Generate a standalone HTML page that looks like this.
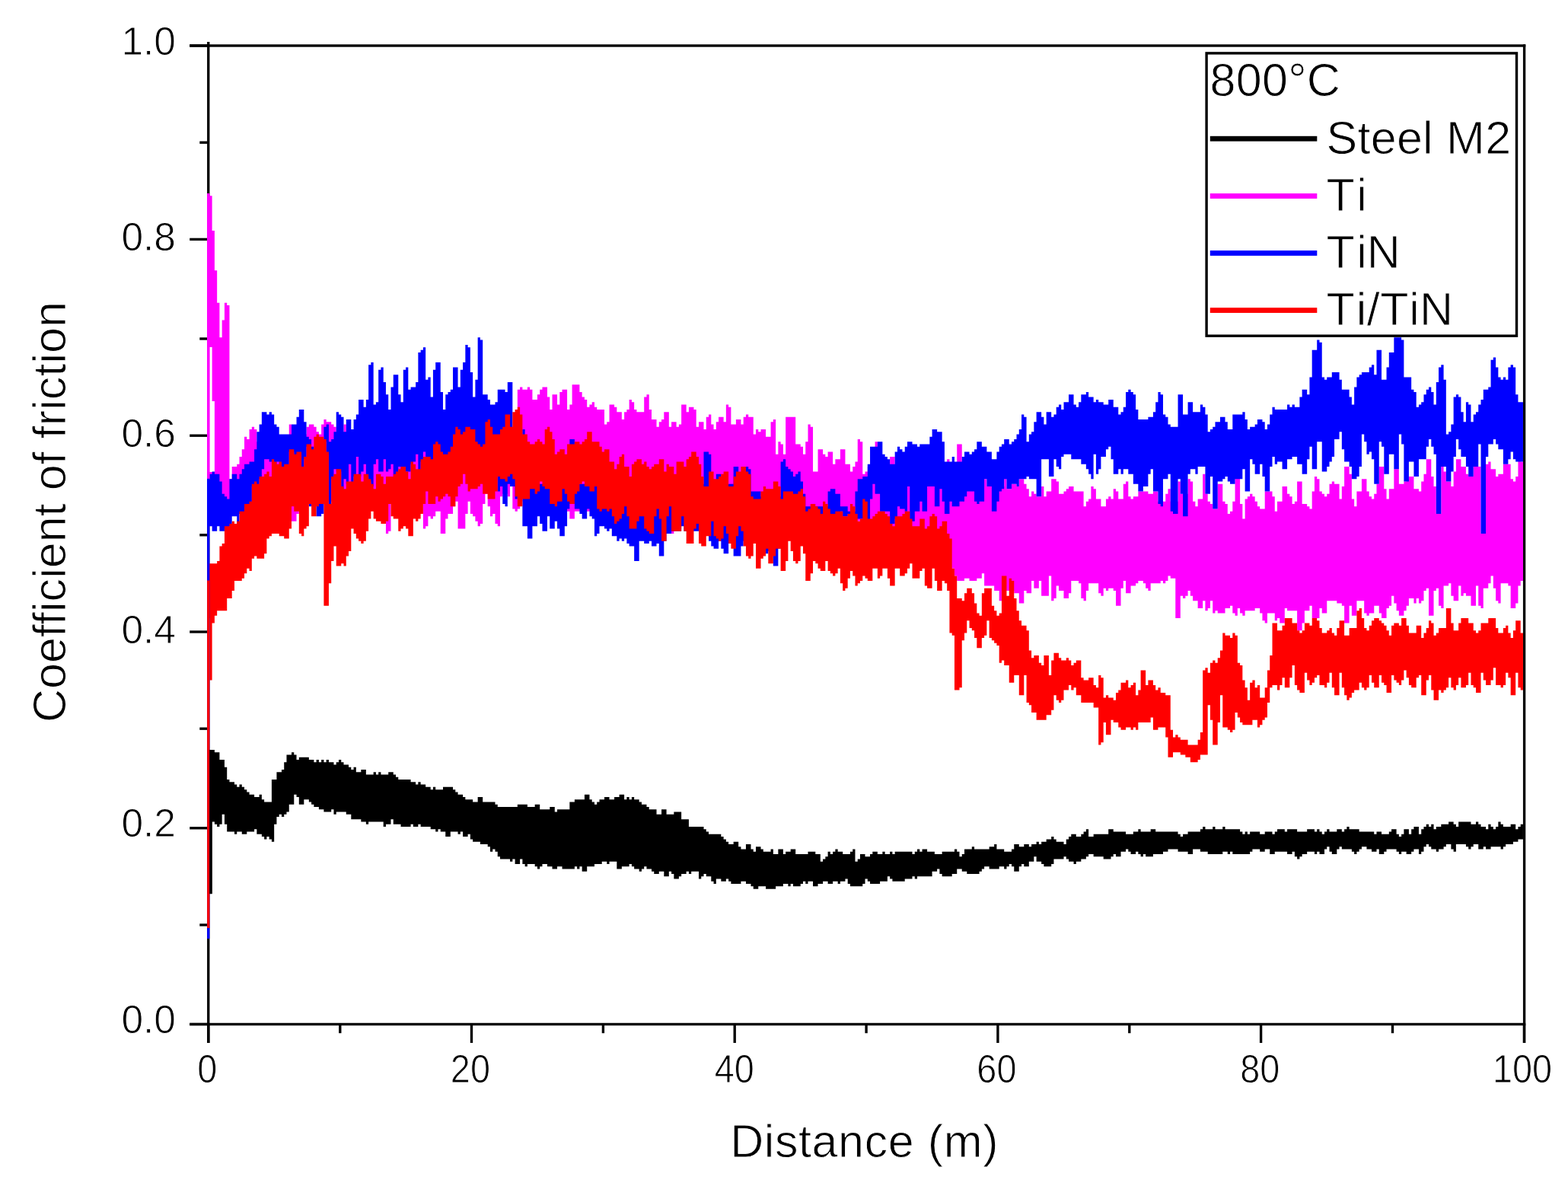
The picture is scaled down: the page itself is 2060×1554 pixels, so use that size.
<!DOCTYPE html>
<html lang="en"><head><meta charset="utf-8"><title>Coefficient of friction vs distance at 800°C</title>
<style>
html,body{margin:0;padding:0;background:#fff;}
body{width:2060px;height:1554px;overflow:hidden;}
svg{display:block;}
text{font-family:"Liberation Sans",Arial,Helvetica,sans-serif;fill:#000;stroke:#fff;stroke-width:0.9px;paint-order:fill stroke;}
.tick{font-size:51.5px;}
.ttl{font-size:61px;}
.leg{font-size:61px;}
</style></head><body>
<svg width="2060" height="1554" viewBox="0 0 2060 1554">
<rect x="0" y="0" width="2060" height="1554" fill="#fff"/>
<g id="axes" fill="#000">
<rect x="272.07" y="55.00" width="3.35" height="1315.00"/>
<rect x="2000.92" y="58.33" width="3.35" height="1311.67"/>
<rect x="249.20" y="58.33" width="1755.07" height="3.35"/>
<rect x="249.20" y="1343.78" width="1755.07" height="3.35"/>
<rect x="249.20" y="1343.83" width="24.55" height="3.35"/>
<rect x="262.30" y="1213.33" width="11.45" height="3.35"/>
<rect x="249.20" y="1086.12" width="24.55" height="3.35"/>
<rect x="262.30" y="955.53" width="11.45" height="3.35"/>
<rect x="249.20" y="828.33" width="24.55" height="3.35"/>
<rect x="262.30" y="701.12" width="11.45" height="3.35"/>
<rect x="249.20" y="570.53" width="24.55" height="3.35"/>
<rect x="262.30" y="443.32" width="11.45" height="3.35"/>
<rect x="249.20" y="312.72" width="24.55" height="3.35"/>
<rect x="262.30" y="185.52" width="11.45" height="3.35"/>
<rect x="249.20" y="58.33" width="24.55" height="3.35"/>
<rect x="272.12" y="1345.45" width="3.35" height="24.55"/>
<rect x="445.12" y="1345.45" width="3.35" height="11.75"/>
<rect x="617.83" y="1345.45" width="3.35" height="24.55"/>
<rect x="790.73" y="1345.45" width="3.35" height="11.75"/>
<rect x="963.53" y="1345.45" width="3.35" height="24.55"/>
<rect x="1136.42" y="1345.45" width="3.35" height="11.75"/>
<rect x="1309.23" y="1345.45" width="3.35" height="24.55"/>
<rect x="1482.12" y="1345.45" width="3.35" height="11.75"/>
<rect x="1654.92" y="1345.45" width="3.35" height="24.55"/>
<rect x="1827.83" y="1345.45" width="3.35" height="11.75"/>
<rect x="2000.78" y="1345.45" width="3.35" height="24.55"/>
</g>
<g id="series">
<path id="steel-m2" fill="#000000" d="M272.10 984.92H275.36H278.62H281.89V988.19H285.15H288.41V997.97H291.67H294.93V1007.76H298.20V1024.08H301.46V1027.34H304.72H307.98V1030.60H311.24V1033.86H314.51V1030.60H317.77V1033.86H321.03V1037.13H324.29V1040.39H327.55V1043.65H330.82H334.08V1046.91H337.34H340.60V1043.65H343.86V1050.18H347.13V1053.44H350.39H353.65H356.91V1024.08H360.17H363.44V1014.29H366.70H369.96V1011.02H373.22V1001.24H376.48V991.45H379.75H383.01V988.19H386.27V991.45H389.53V997.97H392.79V994.71H396.06H399.32H402.58H405.84V997.97H409.10H412.37V1001.24H415.63V997.97H418.89V1001.24H422.15V997.97H425.41V1001.24H428.68V997.97H431.94V1001.24H435.20H438.46V1004.50H441.72V1001.24H444.99V997.97H448.25V1001.24H451.51V1004.50H454.77H458.03V1007.76H461.30V1011.02H464.56V1007.76H467.82V1014.29H471.08H474.34V1011.02H477.61H480.87V1017.55H484.13H487.39H490.65V1014.29H493.92V1017.55H497.18V1014.29H500.44V1017.55H503.70H506.96H510.23V1014.29H513.49H516.75V1017.55H520.01V1020.81H523.27V1024.08H526.54H529.80H533.06H536.32H539.58V1027.34H542.85H546.11V1030.60H549.37V1027.34H552.63V1030.60H555.89H559.16V1033.86H562.42H565.68V1037.13H568.94V1033.86H572.20V1037.13H575.47H578.73H581.99V1033.86H585.25H588.51H591.78H595.04V1037.13H598.30V1040.39H601.56V1043.65H604.82H608.09V1046.91H611.35V1050.18H614.61H617.87H621.13V1053.44H624.40H627.66V1046.91H630.92H634.18V1053.44H637.44H640.71H643.97H647.23H650.49V1056.70H653.75V1059.97H657.02H660.28H663.54H666.80H670.06H673.33H676.59H679.85V1056.70H683.11H686.37H689.64H692.90V1059.97H696.16H699.42H702.68V1056.70H705.95H709.21V1063.23H712.47H715.73H718.99H722.26V1059.97H725.52H728.78V1066.49H732.04V1063.23H735.30H738.57H741.83H745.09H748.35V1053.44H751.61H754.88V1050.18H758.14H761.40H764.66H767.92V1043.65H771.19H774.45V1050.18H777.71V1053.44H780.97V1056.70H784.23V1053.44H787.50V1050.18H790.76H794.02V1046.91H797.28H800.54V1050.18H803.81H807.07V1046.91H810.33H813.59V1043.65H816.85H820.12V1050.18H823.38V1046.91H826.64V1050.18H829.90V1046.91H833.16V1050.18H836.43H839.69V1053.44H842.95V1056.70H846.21H849.47V1059.97H852.74V1063.23H856.00H859.26H862.52V1069.75H865.78H869.05V1063.23H872.31H875.57V1069.75H878.83H882.09H885.36V1066.49H888.62H891.88H895.14V1076.28H898.40H901.67H904.93V1086.07H908.19H911.45H914.71H917.98H921.24H924.50V1089.33H927.76V1092.59H931.02V1095.85H934.29H937.55H940.81H944.07H947.33V1099.12H950.60V1102.38H953.86V1105.64H957.12V1108.91H960.38H963.64V1105.64H966.91H970.17V1112.17H973.43V1115.43H976.69H979.95V1108.91H983.22H986.48V1115.43H989.74V1118.69H993.00V1112.17H996.26H999.53V1115.43H1002.79V1118.69H1006.05H1009.31H1012.57V1115.43H1015.84V1121.96H1019.10H1022.36V1115.43H1025.62H1028.88V1121.96H1032.15V1118.69H1035.41H1038.67V1115.43H1041.93H1045.19V1121.96H1048.46H1051.72H1054.98H1058.24H1061.50V1118.69H1064.77H1068.03H1071.29V1121.96H1074.55H1077.81V1131.74H1081.08V1128.48H1084.34V1125.22H1087.60V1118.69H1090.86V1121.96H1094.12V1118.69H1097.39V1115.43H1100.65V1118.69H1103.91H1107.17V1121.96H1110.43H1113.70H1116.96V1118.69H1120.22V1115.43H1123.48V1131.74H1126.74V1128.48H1130.01V1121.96H1133.27H1136.53V1125.22H1139.79H1143.05V1121.96H1146.32V1118.69H1149.58H1152.84V1121.96H1156.10H1159.36V1118.69H1162.63V1121.96H1165.89H1169.15V1118.69H1172.41V1121.96H1175.67V1118.69H1178.94H1182.20H1185.46H1188.72H1191.98H1195.25H1198.51V1121.96H1201.77V1118.69H1205.03V1115.43H1208.29V1118.69H1211.56V1115.43H1214.82H1218.08V1118.69H1221.34H1224.60H1227.87V1121.96H1231.13H1234.39H1237.65V1118.69H1240.91H1244.18H1247.44H1250.70H1253.96V1115.43H1257.22V1118.69H1260.49V1125.22H1263.75V1121.96H1267.01V1115.43H1270.27H1273.53H1276.80V1112.17H1280.06V1115.43H1283.32H1286.58H1289.84H1293.11H1296.37H1299.63V1112.17H1302.89H1306.15V1108.91H1309.42V1115.43H1312.68H1315.94H1319.20V1118.69H1322.46H1325.73H1328.99V1115.43H1332.25V1108.91H1335.51H1338.77V1112.17H1342.04H1345.30V1108.91H1348.56H1351.82V1112.17H1355.08V1108.91H1358.35H1361.61V1105.64H1364.87V1108.91H1368.13V1105.64H1371.39H1374.66V1102.38H1377.92H1381.18V1099.12H1384.44V1102.38H1387.70V1105.64H1390.97H1394.23H1397.49V1108.91H1400.75V1102.38H1404.01V1099.12H1407.28V1095.85H1410.54H1413.80V1099.12H1417.06H1420.32V1095.85H1423.59V1092.59H1426.85V1089.33H1430.11V1099.12H1433.37H1436.63V1095.85H1439.90H1443.16H1446.42H1449.68H1452.94H1456.21V1089.33H1459.47H1462.73V1092.59H1465.99H1469.25H1472.52H1475.78H1479.04V1095.85H1482.30H1485.56H1488.83V1092.59H1492.09H1495.35V1089.33H1498.61V1092.59H1501.87H1505.14H1508.40H1511.66V1089.33H1514.92H1518.18V1092.59H1521.45H1524.71H1527.97H1531.23H1534.49H1537.76H1541.02H1544.28H1547.54V1095.85H1550.80V1099.12H1554.07V1095.85H1557.33H1560.59V1092.59H1563.85H1567.11H1570.38H1573.64H1576.90V1089.33H1580.16V1086.07H1583.42V1089.33H1586.69H1589.95H1593.21V1086.07H1596.47V1089.33H1599.73H1603.00H1606.26V1086.07H1609.52V1089.33H1612.78H1616.04H1619.31H1622.57H1625.83H1629.09V1092.59H1632.35V1095.85H1635.62V1092.59H1638.88V1095.85H1642.14V1092.59H1645.40H1648.66H1651.93H1655.19V1095.85H1658.45H1661.71V1092.59H1664.97H1668.24H1671.50V1095.85H1674.76V1092.59H1678.02V1089.33H1681.28H1684.55H1687.81V1092.59H1691.07V1089.33H1694.33H1697.59H1700.86H1704.12V1092.59H1707.38H1710.64H1713.90H1717.17V1089.33H1720.43H1723.69H1726.95V1092.59H1730.21V1089.33H1733.48V1092.59H1736.74V1095.85H1740.00V1092.59H1743.26V1089.33H1746.52V1092.59H1749.79H1753.05H1756.31V1089.33H1759.57H1762.83V1092.59H1766.10V1089.33H1769.36V1086.07H1772.62V1089.33H1775.88H1779.14H1782.41H1785.67V1092.59H1788.93H1792.19H1795.45H1798.72H1801.98H1805.24V1095.85H1808.50V1092.59H1811.76H1815.03V1095.85H1818.29H1821.55H1824.81V1092.59H1828.07V1089.33H1831.34H1834.60V1095.85H1837.86V1099.12H1841.12V1095.85H1844.38V1089.33H1847.65H1850.91V1095.85H1854.17V1089.33H1857.43V1086.07H1860.69H1863.96V1095.85H1867.22V1089.33H1870.48V1086.07H1873.74V1082.80H1877.00V1086.07H1880.27V1082.80H1883.53V1089.33H1886.79V1086.07H1890.05H1893.31V1082.80H1896.58H1899.84H1903.10V1079.54H1906.36H1909.62V1082.80H1912.89V1086.07H1916.15V1079.54H1919.41H1922.67H1925.93H1929.20H1932.46V1082.80H1935.72H1938.98V1079.54H1942.24V1082.80H1945.51V1086.07H1948.77H1952.03V1089.33H1955.29V1082.80H1958.55V1086.07H1961.82V1089.33H1965.08V1086.07H1968.34V1079.54H1971.60V1082.80H1974.86V1086.07H1978.13H1981.39H1984.65V1082.80H1987.91H1991.17V1089.33H1994.44V1086.07H1997.70V1082.80H2000.96V1102.38H1997.70H1994.44V1105.64H1991.17H1987.91V1108.91H1984.65H1981.39H1978.13V1112.17H1974.86V1115.43H1971.60V1112.17H1968.34H1965.08H1961.82H1958.55V1115.43H1955.29H1952.03V1112.17H1948.77V1115.43H1945.51H1942.24V1108.91H1938.98H1935.72V1112.17H1932.46V1115.43H1929.20V1112.17H1925.93V1108.91H1922.67H1919.41H1916.15H1912.89V1118.69H1909.62V1115.43H1906.36V1108.91H1903.10H1899.84V1112.17H1896.58V1115.43H1893.31H1890.05V1118.69H1886.79V1115.43H1883.53H1880.27V1112.17H1877.00V1108.91H1873.74V1112.17H1870.48V1118.69H1867.22V1121.96H1863.96V1115.43H1860.69H1857.43V1118.69H1854.17V1121.96H1850.91H1847.65V1118.69H1844.38H1841.12V1121.96H1837.86V1118.69H1834.60V1115.43H1831.34H1828.07H1824.81H1821.55V1118.69H1818.29V1121.96H1815.03H1811.76V1115.43H1808.50V1118.69H1805.24H1801.98V1115.43H1798.72H1795.45V1112.17H1792.19H1788.93V1115.43H1785.67V1118.69H1782.41V1121.96H1779.14V1118.69H1775.88V1115.43H1772.62H1769.36H1766.10H1762.83V1112.17H1759.57V1115.43H1756.31V1121.96H1753.05H1749.79V1118.69H1746.52V1112.17H1743.26V1115.43H1740.00V1121.96H1736.74H1733.48V1118.69H1730.21V1121.96H1726.95V1118.69H1723.69H1720.43H1717.17V1121.96H1713.90H1710.64V1125.22H1707.38V1128.48H1704.12V1125.22H1700.86V1118.69H1697.59V1121.96H1694.33H1691.07V1118.69H1687.81H1684.55H1681.28H1678.02H1674.76V1121.96H1671.50H1668.24V1115.43H1664.97H1661.71V1118.69H1658.45H1655.19V1115.43H1651.93H1648.66H1645.40V1118.69H1642.14V1121.96H1638.88H1635.62H1632.35H1629.09H1625.83H1622.57H1619.31V1118.69H1616.04V1121.96H1612.78V1118.69H1609.52H1606.26V1121.96H1603.00H1599.73H1596.47H1593.21H1589.95H1586.69V1118.69H1583.42H1580.16H1576.90V1115.43H1573.64H1570.38H1567.11V1121.96H1563.85H1560.59V1118.69H1557.33H1554.07H1550.80H1547.54V1115.43H1544.28H1541.02H1537.76H1534.49V1118.69H1531.23H1527.97V1121.96H1524.71H1521.45H1518.18H1514.92V1125.22H1511.66H1508.40H1505.14V1121.96H1501.87V1125.22H1498.61V1121.96H1495.35V1118.69H1492.09V1121.96H1488.83H1485.56V1118.69H1482.30V1115.43H1479.04V1118.69H1475.78H1472.52V1125.22H1469.25H1465.99V1121.96H1462.73V1125.22H1459.47V1128.48H1456.21H1452.94H1449.68V1125.22H1446.42H1443.16H1439.90H1436.63V1121.96H1433.37H1430.11V1125.22H1426.85V1128.48H1423.59H1420.32V1131.74H1417.06H1413.80V1135.01H1410.54V1131.74H1407.28H1404.01V1128.48H1400.75V1125.22H1397.49V1128.48H1394.23H1390.97H1387.70H1384.44V1135.01H1381.18V1138.27H1377.92H1374.66H1371.39V1135.01H1368.13V1131.74H1364.87H1361.61V1125.22H1358.35V1131.74H1355.08H1351.82V1138.27H1348.56H1345.30V1135.01H1342.04V1138.27H1338.77V1144.80H1335.51H1332.25V1138.27H1328.99V1135.01H1325.73V1138.27H1322.46V1141.53H1319.20V1138.27H1315.94H1312.68V1141.53H1309.42H1306.15H1302.89H1299.63V1138.27H1296.37H1293.11V1141.53H1289.84V1144.80H1286.58V1148.06H1283.32H1280.06H1276.80H1273.53H1270.27V1144.80H1267.01H1263.75V1141.53H1260.49H1257.22V1148.06H1253.96H1250.70V1151.32H1247.44H1244.18H1240.91H1237.65V1148.06H1234.39V1141.53H1231.13V1144.80H1227.87H1224.60V1151.32H1221.34H1218.08H1214.82H1211.56H1208.29H1205.03V1154.58H1201.77V1151.32H1198.51V1154.58H1195.25H1191.98H1188.72V1157.85H1185.46H1182.20H1178.94H1175.67H1172.41V1154.58H1169.15V1151.32H1165.89V1157.85H1162.63H1159.36H1156.10V1161.11H1152.84H1149.58H1146.32H1143.05V1157.85H1139.79V1154.58H1136.53V1161.11H1133.27V1164.37H1130.01H1126.74H1123.48H1120.22H1116.96V1161.11H1113.70V1154.58H1110.43V1157.85H1107.17H1103.91V1161.11H1100.65V1157.85H1097.39H1094.12V1161.11H1090.86H1087.60V1157.85H1084.34H1081.08V1161.11H1077.81H1074.55V1164.37H1071.29H1068.03V1157.85H1064.77H1061.50V1161.11H1058.24V1157.85H1054.98V1161.11H1051.72V1164.37H1048.46H1045.19H1041.93V1161.11H1038.67V1164.37H1035.41V1161.11H1032.15H1028.88V1164.37H1025.62H1022.36H1019.10V1167.63H1015.84H1012.57H1009.31H1006.05V1164.37H1002.79H999.53H996.26V1167.63H993.00H989.74V1164.37H986.48V1161.11H983.22H979.95V1157.85H976.69H973.43V1161.11H970.17H966.91H963.64H960.38V1157.85H957.12V1154.58H953.86V1157.85H950.60H947.33V1154.58H944.07H940.81V1161.11H937.55V1157.85H934.29V1151.32H931.02H927.76V1148.06H924.50V1151.32H921.24V1154.58H917.98V1144.80H914.71H911.45H908.19V1148.06H904.93V1144.80H901.67V1148.06H898.40H895.14V1151.32H891.88V1154.58H888.62H885.36V1148.06H882.09V1144.80H878.83V1151.32H875.57H872.31V1144.80H869.05H865.78V1148.06H862.52H859.26V1144.80H856.00V1141.53H852.74H849.47V1138.27H846.21V1141.53H842.95V1144.80H839.69V1141.53H836.43H833.16V1138.27H829.90V1135.01H826.64V1138.27H823.38H820.12H816.85V1141.53H813.59H810.33V1131.74H807.07H803.81H800.54V1135.01H797.28V1131.74H794.02H790.76V1135.01H787.50H784.23H780.97V1138.27H777.71H774.45H771.19V1144.80H767.92H764.66V1138.27H761.40V1141.53H758.14V1138.27H754.88V1141.53H751.61H748.35H745.09H741.83H738.57V1138.27H735.30H732.04V1141.53H728.78H725.52V1138.27H722.26H718.99V1135.01H715.73H712.47V1138.27H709.21V1141.53H705.95V1138.27H702.68V1135.01H699.42H696.16H692.90V1138.27H689.64V1135.01H686.37V1128.48H683.11V1135.01H679.85H676.59V1128.48H673.33V1131.74H670.06V1128.48H666.80H663.54H660.28H657.02V1125.22H653.75V1118.69H650.49V1115.43H647.23V1118.69H643.97V1112.17H640.71V1108.91H637.44H634.18H630.92V1105.64H627.66H624.40H621.13V1102.38H617.87V1095.85H614.61V1099.12H611.35H608.09V1092.59H604.82V1095.85H601.56V1092.59H598.30H595.04H591.78V1099.12H588.51H585.25V1092.59H581.99H578.73V1089.33H575.47V1092.59H572.20V1089.33H568.94H565.68V1086.07H562.42H559.16H555.89H552.63V1082.80H549.37V1086.07H546.11H542.85V1082.80H539.58V1086.07H536.32H533.06H529.80H526.54V1082.80H523.27H520.01H516.75V1076.28H513.49V1082.80H510.23H506.96V1086.07H503.70V1079.54H500.44H497.18H493.92H490.65H487.39H484.13V1082.80H480.87V1079.54H477.61H474.34V1076.28H471.08H467.82H464.56H461.30V1069.75H458.03H454.77V1066.49H451.51H448.25H444.99H441.72V1069.75H438.46V1063.23H435.20V1066.49H431.94H428.68H425.41V1063.23H422.15H418.89V1059.97H415.63H412.37V1056.70H409.10V1053.44H405.84V1050.18H402.58H399.32V1056.70H396.06H392.79V1046.91H389.53V1043.65H386.27V1056.70H383.01H379.75V1066.49H376.48V1069.75H373.22V1073.02H369.96V1069.75H366.70V1073.02H363.44V1082.80H360.17V1105.64H356.91V1102.38H353.65V1099.12H350.39V1102.38H347.13V1099.12H343.86V1095.85H340.60H337.34V1089.33H334.08V1092.59H330.82H327.55H324.29V1095.85H321.03H317.77V1092.59H314.51H311.24V1095.85H307.98V1092.59H304.72H301.46H298.20V1082.80H294.93V1069.75H291.67V1082.80H288.41V1086.07H285.15V1082.80H281.89V1079.54H278.62V1174.16H275.36H272.10Z"/>
<path id="ti" fill="#ff00ff" d="M272.10 254.08H275.36V257.34H278.62V303.02H281.89V355.22H285.15V397.64H288.41V443.31H291.67V420.48H294.93V397.64H298.20V400.90H301.46V629.29H304.72V612.98H307.98H311.24V609.71H314.51V599.92H317.77V590.14H321.03V573.82H324.29V577.09H327.55V564.03H330.82V560.77H334.08V564.03H337.34V580.35H340.60H343.86H347.13H350.39H353.65H356.91H360.17H363.44H366.70H369.96H373.22H376.48H379.75V557.51H383.01V570.56H386.27H389.53H392.79H396.06H399.32H402.58V560.77H405.84V557.51H409.10H412.37V560.77H415.63V567.30H418.89V570.56H422.15V557.51H425.41V550.98H428.68V554.25H431.94H435.20V557.51H438.46V560.77H441.72V570.56H444.99H448.25H451.51V557.51H454.77V567.30H458.03H461.30H464.56H467.82H471.08H474.34H477.61H480.87H484.13H487.39H490.65H493.92H497.18H500.44H503.70H506.96H510.23H513.49H516.75H520.01H523.27H526.54H529.80H533.06H536.32H539.58H542.85H546.11H549.37H552.63H555.89H559.16H562.42H565.68V596.66H568.94V603.19H572.20V577.09H575.47V603.19H578.73V567.30H581.99H585.25H588.51H591.78H595.04H598.30H601.56H604.82H608.09H611.35H614.61H617.87H621.13H624.40H627.66H630.92H634.18H637.44H640.71H643.97H647.23H650.49H653.75H657.02H660.28H663.54H666.80H670.06H673.33H676.59H679.85V511.83H683.11V508.57H686.37V511.83H689.64H692.90V508.57H696.16V511.83H699.42V524.88H702.68H705.95V518.36H709.21V511.83H712.47V508.57H715.73H718.99V521.62H722.26V537.93H725.52V518.36H728.78H732.04V531.41H735.30V515.09H738.57V511.83H741.83H745.09V537.93H748.35V531.41H751.61V505.31H754.88H758.14H761.40V515.09H764.66V521.62H767.92V524.88H771.19V534.67H774.45V531.41H777.71V528.14H780.97V534.67H784.23V537.93H787.50H790.76H794.02V557.51H797.28V554.25H800.54V531.41H803.81H807.07V534.67H810.33V541.20H813.59H816.85V550.98H820.12V541.20H823.38V537.93H826.64V524.88H829.90V528.14H833.16V537.93H836.43V541.20H839.69H842.95H846.21V521.62H849.47V518.36H852.74V537.93H856.00V550.98H859.26H862.52V560.77H865.78V554.25H869.05V550.98H872.31V541.20H875.57H878.83V560.77H882.09V554.25H885.36H888.62V560.77H891.88V557.51H895.14V531.41H898.40H901.67V541.20H904.93V534.67H908.19H911.45V537.93H914.71V560.77H917.98V554.25H921.24H924.50V564.03H927.76V547.72H931.02V544.46H934.29V557.51H937.55V564.03H940.81V554.25H944.07V547.72H947.33H950.60V554.25H953.86V531.41H957.12V534.67H960.38V557.51H963.64H966.91V550.98H970.17H973.43V557.51H976.69V547.72H979.95V544.46H983.22V547.72H986.48H989.74V570.56H993.00V564.03H996.26V567.30H999.53V564.03H1002.79H1006.05V573.82H1009.31H1012.57V554.25H1015.84V550.98H1019.10V596.66H1022.36V580.35H1025.62V583.61H1028.88V596.66H1032.15V547.72H1035.41H1038.67H1041.93H1045.19V583.61H1048.46H1051.72V586.87H1054.98V596.66H1058.24V580.35H1061.50V557.51H1064.77V560.77H1068.03V619.50H1071.29H1074.55V590.14H1077.81H1081.08V596.66H1084.34V599.92H1087.60V593.40H1090.86H1094.12V609.71H1097.39V603.19H1100.65H1103.91V590.14H1107.17H1110.43V609.71H1113.70H1116.96V619.50H1120.22V612.98H1123.48V606.45H1126.74V577.09H1130.01V580.35H1133.27V622.76H1136.53V619.50H1139.79V612.98H1143.05H1146.32H1149.58V580.35H1152.84V612.98H1156.10H1159.36H1162.63H1165.89H1169.15V599.92H1172.41H1175.67V612.98H1178.94H1182.20H1185.46H1188.72H1191.98H1195.25H1198.51H1201.77H1205.03H1208.29H1211.56H1214.82H1218.08H1221.34H1224.60H1227.87H1231.13H1234.39H1237.65H1240.91H1244.18V603.19H1247.44V612.98H1250.70H1253.96H1257.22V583.61H1260.49H1263.75V612.98H1267.01H1270.27H1273.53H1276.80H1280.06H1283.32H1286.58H1289.84H1293.11V629.29H1296.37V639.08H1299.63H1302.89H1306.15H1309.42H1312.68H1315.94H1319.20V626.03H1322.46V642.34H1325.73H1328.99V635.81H1332.25H1335.51V639.08H1338.77V629.29H1342.04H1345.30V635.81H1348.56V642.34H1351.82V652.13H1355.08V645.60H1358.35V648.86H1361.61V652.13H1364.87H1368.13V639.08H1371.39V652.13H1374.66V645.60H1377.92H1381.18V629.29H1384.44H1387.70V632.55H1390.97V648.86H1394.23H1397.49V645.60H1400.75V642.34H1404.01V639.08H1407.28H1410.54V645.60H1413.80H1417.06H1420.32H1423.59V665.18H1426.85V658.65H1430.11V655.39H1433.37V639.08H1436.63V642.34H1439.90V655.39H1443.16H1446.42V665.18H1449.68H1452.94V655.39H1456.21V652.13H1459.47V655.39H1462.73V642.34H1465.99V645.60H1469.25V655.39H1472.52H1475.78V635.81H1479.04V632.55H1482.30V652.13H1485.56V655.39H1488.83V652.13H1492.09H1495.35V645.60H1498.61H1501.87H1505.14H1508.40V648.86H1511.66H1514.92V645.60H1518.18H1521.45V658.65H1524.71H1527.97H1531.23V648.86H1534.49V642.34H1537.76V658.65H1541.02H1544.28H1547.54V632.55H1550.80V648.86H1554.07H1557.33H1560.59V629.29H1563.85V632.55H1567.11V658.65H1570.38V665.18H1573.64V655.39H1576.90H1580.16V622.76H1583.42V648.86H1586.69V658.65H1589.95V661.92H1593.21V668.44H1596.47H1599.73V635.81H1603.00H1606.26V658.65H1609.52V661.92H1612.78V674.97H1616.04V671.70H1619.31V658.65H1622.57V626.03H1625.83H1629.09V661.92H1632.35V681.49H1635.62V655.39H1638.88V652.13H1642.14V648.86H1645.40V652.13H1648.66V658.65H1651.93V665.18H1655.19V668.44H1658.45H1661.71V645.60H1664.97H1668.24H1671.50V652.13H1674.76V671.70H1678.02V658.65H1681.28H1684.55V639.08H1687.81H1691.07V648.86H1694.33V652.13H1697.59V661.92H1700.86V658.65H1704.12V632.55H1707.38H1710.64V661.92H1713.90H1717.17V665.18H1720.43V668.44H1723.69V645.60H1726.95V626.03H1730.21V629.29H1733.48V645.60H1736.74V648.86H1740.00V652.13H1743.26V648.86H1746.52V635.81H1749.79V632.55H1753.05V635.81H1756.31H1759.57V655.39H1762.83V639.08H1766.10V612.98H1769.36H1772.62V622.76H1775.88V655.39H1779.14V665.18H1782.41V645.60H1785.67H1788.93V629.29H1792.19H1795.45V645.60H1798.72V652.13H1801.98V655.39H1805.24V648.86H1808.50V635.81H1811.76V612.98H1815.03H1818.29V642.34H1821.55V655.39H1824.81V642.34H1828.07H1831.34V616.24H1834.60H1837.86V635.81H1841.12H1844.38V632.55H1847.65V629.29H1850.91V626.03H1854.17H1857.43V642.34H1860.69H1863.96V645.60H1867.22V632.55H1870.48V622.76H1873.74V603.19H1877.00H1880.27V626.03H1883.53V639.08H1886.79V674.97H1890.05H1893.31V612.98H1896.58V619.50H1899.84V632.55H1903.10H1906.36V639.08H1909.62V619.50H1912.89V603.19H1916.15H1919.41V612.98H1922.67H1925.93V622.76H1929.20V626.03H1932.46H1935.72V612.98H1938.98H1942.24H1945.51V701.07H1948.77H1952.03V609.71H1955.29V606.45H1958.55V616.24H1961.82H1965.08V626.03H1968.34V622.76H1971.60H1974.86V609.71H1978.13H1981.39H1984.65V629.29H1987.91V632.55H1991.17V626.03H1994.44V603.19H1997.70V606.45H2000.96V763.06H1997.70V769.58H1994.44V792.42H1991.17V798.95H1987.91H1984.65V769.58H1981.39V766.32H1978.13H1974.86H1971.60V792.42H1968.34V789.16H1965.08V772.85H1961.82V756.53H1958.55V766.32H1955.29V772.85H1952.03H1948.77V798.95H1945.51V795.69H1942.24V769.58H1938.98V795.69H1935.72H1932.46V782.64H1929.20H1925.93V779.37H1922.67V782.64H1919.41V769.58H1916.15V789.16H1912.89H1909.62V782.64H1906.36V766.32H1903.10V769.58H1899.84H1896.58V798.95H1893.31V795.69H1890.05V772.85H1886.79V776.11H1883.53V808.74H1880.27H1877.00V772.85H1873.74V776.11H1870.48V789.16H1867.22V792.42H1863.96V785.90H1860.69V792.42H1857.43V785.90H1854.17H1850.91V795.69H1847.65V802.21H1844.38V808.74H1841.12H1837.86V802.21H1834.60V792.42H1831.34V782.64H1828.07V795.69H1824.81V798.95H1821.55V812.00H1818.29H1815.03V805.47H1811.76V795.69H1808.50H1805.24V805.47H1801.98H1798.72V808.74H1795.45V805.47H1792.19V789.16H1788.93H1785.67H1782.41V808.74H1779.14H1775.88V795.69H1772.62V818.53H1769.36H1766.10V795.69H1762.83V792.42H1759.57H1756.31V789.16H1753.05H1749.79H1746.52H1743.26V805.47H1740.00H1736.74V798.95H1733.48V812.00H1730.21H1726.95H1723.69V795.69H1720.43V802.21H1717.17H1713.90V818.53H1710.64V828.31H1707.38H1704.12V802.21H1700.86H1697.59H1694.33H1691.07V798.95H1687.81V818.53H1684.55H1681.28V812.00H1678.02V815.26H1674.76V805.47H1671.50H1668.24H1664.97V818.53H1661.71V815.26H1658.45V805.47H1655.19V798.95H1651.93H1648.66V802.21H1645.40H1642.14H1638.88H1635.62V808.74H1632.35V805.47H1629.09V798.95H1625.83V808.74H1622.57V805.47H1619.31V795.69H1616.04V798.95H1612.78H1609.52V805.47H1606.26H1603.00H1599.73V802.21H1596.47V805.47H1593.21V789.16H1589.95V798.95H1586.69V802.21H1583.42V789.16H1580.16V798.95H1576.90H1573.64V789.16H1570.38H1567.11V782.64H1563.85V776.11H1560.59V782.64H1557.33V785.90H1554.07V782.64H1550.80V812.00H1547.54H1544.28V759.80H1541.02H1537.76V756.53H1534.49V763.06H1531.23V766.32H1527.97V763.06H1524.71V766.32H1521.45H1518.18H1514.92H1511.66V776.11H1508.40V772.85H1505.14V766.32H1501.87V763.06H1498.61H1495.35V766.32H1492.09V769.58H1488.83H1485.56V779.37H1482.30H1479.04V763.06H1475.78V772.85H1472.52V795.69H1469.25H1465.99V776.11H1462.73V772.85H1459.47H1456.21V776.11H1452.94V772.85H1449.68V782.64H1446.42V779.37H1443.16V766.32H1439.90H1436.63H1433.37H1430.11V776.11H1426.85V789.16H1423.59V785.90H1420.32V766.32H1417.06V763.06H1413.80H1410.54H1407.28V779.37H1404.01V785.90H1400.75H1397.49V776.11H1394.23H1390.97V769.58H1387.70V785.90H1384.44V789.16H1381.18V756.53H1377.92V782.64H1374.66H1371.39H1368.13V763.06H1364.87V772.85H1361.61H1358.35V763.06H1355.08V779.37H1351.82H1348.56V776.11H1345.30V792.42H1342.04H1338.77V779.37H1335.51H1332.25V776.11H1328.99H1325.73H1322.46H1319.20H1315.94V789.16H1312.68V776.11H1309.42H1306.15V769.58H1302.89H1299.63H1296.37H1293.11V753.27H1289.84V759.80H1286.58H1283.32V763.06H1280.06H1276.80H1273.53V759.80H1270.27H1267.01V763.06H1263.75H1260.49H1257.22V756.53H1253.96V746.75H1250.70H1247.44V733.70H1244.18H1240.91H1237.65H1234.39H1231.13H1227.87H1224.60H1221.34H1218.08H1214.82H1211.56H1208.29H1205.03H1201.77H1198.51H1195.25H1191.98H1188.72H1185.46H1182.20H1178.94H1175.67H1172.41H1169.15H1165.89H1162.63H1159.36H1156.10H1152.84H1149.58H1146.32H1143.05H1139.79V684.75H1136.53H1133.27H1130.01H1126.74H1123.48H1120.22H1116.96H1113.70H1110.43H1107.17H1103.91H1100.65H1097.39H1094.12H1090.86H1087.60H1084.34H1081.08H1077.81H1074.55H1071.29H1068.03H1064.77H1061.50H1058.24H1054.98H1051.72H1048.46H1045.19H1041.93H1038.67H1035.41H1032.15H1028.88H1025.62H1022.36H1019.10H1015.84H1012.57H1009.31H1006.05H1002.79H999.53H996.26H993.00H989.74H986.48H983.22H979.95H976.69H973.43H970.17H966.91H963.64H960.38H957.12H953.86H950.60H947.33H944.07H940.81H937.55H934.29H931.02H927.76H924.50H921.24H917.98H914.71H911.45H908.19H904.93H901.67H898.40H895.14V694.54H891.88H888.62H885.36V701.07H882.09H878.83V671.70H875.57H872.31H869.05H865.78H862.52H859.26H856.00H852.74H849.47H846.21H842.95H839.69H836.43H833.16H829.90H826.64H823.38H820.12H816.85H813.59H810.33H807.07H803.81H800.54H797.28H794.02H790.76H787.50H784.23H780.97H777.71H774.45H771.19H767.92H764.66H761.40H758.14H754.88V681.49H751.61H748.35V671.70H745.09H741.83H738.57H735.30H732.04H728.78H725.52H722.26H718.99H715.73H712.47H709.21H705.95H702.68H699.42V658.65H696.16H692.90H689.64H686.37V648.86H683.11V668.44H679.85V671.70H676.59V668.44H673.33V639.08H670.06V652.13H666.80V648.86H663.54H660.28V652.13H657.02V691.28H653.75V688.02H650.49V674.97H647.23V678.23H643.97V665.18H640.71V648.86H637.44V661.92H634.18V688.02H630.92V691.28H627.66V684.75H624.40V678.23H621.13V674.97H617.87V658.65H614.61V674.97H611.35V694.54H608.09H604.82H601.56V658.65H598.30V665.18H595.04V674.97H591.78H588.51V681.49H585.25V701.07H581.99H578.73V671.70H575.47H572.20V678.23H568.94V681.49H565.68V678.23H562.42V691.28H559.16V694.54H555.89V658.65H552.63H549.37H546.11H542.85H539.58H536.32H533.06H529.80H526.54H523.27H520.01H516.75H513.49V697.81H510.23V701.07H506.96V658.65H503.70H500.44H497.18H493.92H490.65H487.39H484.13H480.87H477.61H474.34H471.08H467.82H464.56H461.30H458.03H454.77H451.51H448.25H444.99H441.72H438.46H435.20H431.94H428.68H425.41H422.15H418.89H415.63H412.37H409.10H405.84H402.58H399.32H396.06H392.79V674.97H389.53V684.75H386.27H383.01V658.65H379.75H376.48H373.22H369.96H366.70H363.44H360.17H356.91H353.65H350.39H347.13H343.86H340.60H337.34H334.08H330.82H327.55H324.29H321.03H317.77H314.51H311.24H307.98H304.72H301.46H298.20H294.93H291.67H288.41H285.15H281.89H278.62H275.36H272.10Z"/>
<path fill="#fff" d="M275.36 456H278.62V527H281.89V620H275.36Z"/>
<path id="tin" fill="#0000ff" d="M272.10 629.29H275.36V622.76H278.62V619.50H281.89V622.76H285.15H288.41V632.55H291.67V648.86H294.93V652.13H298.20V655.39H301.46V629.29H304.72V622.76H307.98H311.24V629.29H314.51V622.76H317.77V616.24H321.03V609.71H324.29H327.55V606.45H330.82H334.08V590.14H337.34V567.30H340.60V557.51H343.86V541.20H347.13H350.39V544.46H353.65V541.20H356.91V544.46H360.17V557.51H363.44V560.77H366.70V570.56H369.96H373.22H376.48H379.75H383.01V557.51H386.27H389.53V547.72H392.79V537.93H396.06H399.32V554.25H402.58V573.82H405.84V577.09H409.10V586.87H412.37V593.40H409.10V665.18H405.84V586.87H402.58V603.19H399.32V616.24H396.06V596.66H392.79H389.53V599.92H386.27V593.40H383.01H379.75V612.98H376.48H373.22V616.24H369.96V609.71H366.70V606.45H363.44V609.71H360.17V606.45H356.91H353.65V603.19H350.39H347.13V616.24H343.86V629.29H340.60V639.08H337.34V635.81H334.08V639.08H330.82V661.92H327.55V665.18H324.29H321.03V674.97H317.77H314.51V688.02H311.24V678.23H307.98H304.72V691.28H301.46V694.54H298.20H294.93V697.81H291.67H288.41V691.28H285.15V697.81H281.89H278.62V691.28H275.36H272.10ZM415.63 583.61H418.89H422.15H425.41V560.77H428.68V557.51H431.94V580.35H435.20V577.09H438.46V567.30H441.72V541.20H444.99V544.46H448.25V547.72H451.51V567.30H454.77V550.98H458.03H461.30V564.03H464.56V550.98H467.82V544.46H471.08V524.88H474.34H477.61V534.67H480.87V524.88H484.13V479.20H487.39V475.94H490.65V531.41H493.92V528.14H497.18V485.73H500.44V482.47H503.70V502.04H506.96V518.36H510.23V537.93H513.49V508.57H516.75V492.26H520.01H523.27V518.36H526.54V528.14H529.80V485.73H533.06V482.47H536.32V511.83H539.58V508.57H542.85H546.11V502.04H549.37V462.89H552.63V459.63H555.89V456.37H559.16V498.78H562.42V495.52H565.68V521.62H568.94V485.73H572.20V475.94H575.47H578.73V515.09H581.99V537.93H585.25V518.36H588.51V515.09H591.78V511.83H595.04V482.47H598.30H601.56V508.57H604.82V485.73H608.09V475.94H611.35V453.10H614.61V456.37H617.87V488.99H621.13V521.62H624.40V498.78H627.66V443.31H630.92V446.58H634.18V518.36H637.44H640.71V524.88H643.97V531.41H647.23H650.49V528.14H653.75V511.83H657.02H660.28H663.54V515.09H666.80V502.04H670.06H673.33V586.87H676.59H679.85H683.11H686.37V564.03H689.64V586.87H692.90H696.16H699.42V635.81H702.68H705.95H709.21H712.47H715.73H718.99H722.26H725.52H728.78H732.04H735.30H738.57H741.83H745.09H748.35V577.09H751.61H754.88V635.81H758.14H761.40H764.66H767.92H771.19H774.45H777.71H780.97H784.23H787.50H790.76H794.02H797.28H800.54H803.81H807.07H810.33H813.59H816.85H820.12H823.38H826.64H829.90H833.16H836.43H839.69H842.95H846.21H849.47H852.74H856.00H859.26H862.52H865.78H869.05H872.31H875.57H878.83H882.09H885.36H888.62H891.88H895.14H898.40H901.67H904.93H908.19H911.45H914.71H917.98H921.24H924.50V593.40H927.76H931.02V596.66H934.29V635.81H937.55H940.81V622.76H944.07H947.33V635.81H950.60H953.86H957.12H960.38H963.64V612.98H966.91H970.17V635.81H973.43H976.69H979.95V612.98H983.22V616.24H986.48V645.60H989.74H993.00H996.26H999.53V652.13H1002.79H1006.05H1009.31H1012.57H1015.84H1019.10H1022.36H1025.62V606.45H1028.88V603.19H1032.15V612.98H1035.41V616.24H1038.67V619.50H1041.93V626.03H1045.19V622.76H1048.46V619.50H1051.72V632.55H1054.98V648.86H1058.24V665.18H1061.50H1064.77H1068.03H1071.29H1074.55H1077.81H1081.08H1084.34H1087.60V645.60H1090.86V642.34H1094.12H1097.39V648.86H1100.65H1103.91V665.18H1107.17H1110.43H1113.70V671.70H1116.96H1120.22H1123.48V645.60H1126.74V629.29H1130.01H1133.27V626.03H1136.53H1139.79V609.71H1143.05V586.87H1146.32H1149.58H1152.84V580.35H1156.10H1159.36V596.66H1162.63V599.92H1165.89V603.19H1169.15V609.71H1172.41H1175.67V593.40H1178.94V586.87H1182.20V590.14H1185.46V593.40H1188.72V586.87H1191.98V580.35H1195.25H1198.51V583.61H1201.77H1205.03V586.87H1208.29V583.61H1211.56H1214.82H1218.08H1221.34V573.82H1224.60V564.03H1227.87H1231.13V567.30H1234.39H1237.65V580.35H1240.91V606.45H1244.18H1247.44H1250.70V599.92H1253.96V606.45H1257.22H1260.49H1263.75V599.92H1267.01V593.40H1270.27H1273.53V596.66H1276.80V593.40H1280.06V590.14H1283.32V580.35H1286.58H1289.84V586.87H1293.11H1296.37V593.40H1299.63H1302.89V603.19H1306.15H1309.42V593.40H1312.68V586.87H1315.94V583.61H1319.20V577.09H1322.46H1325.73V583.61H1328.99V580.35H1332.25V577.09H1335.51V570.56H1338.77V564.03H1342.04V544.46H1345.30V547.72H1348.56V580.35H1351.82V570.56H1355.08V567.30H1358.35V554.25H1361.61V541.20H1364.87H1368.13V547.72H1371.39V557.51H1374.66V541.20H1377.92H1381.18V547.72H1384.44V544.46H1387.70V534.67H1390.97V531.41H1394.23V537.93H1397.49V528.14H1400.75H1404.01V518.36H1407.28H1410.54V531.41H1413.80V534.67H1417.06V528.14H1420.32V518.36H1423.59H1426.85V515.09H1430.11V521.62H1433.37H1436.63V528.14H1439.90V524.88H1443.16V528.14H1446.42H1449.68V531.41H1452.94H1456.21V524.88H1459.47H1462.73V534.67H1465.99H1469.25V544.46H1472.52V541.20H1475.78V534.67H1479.04V515.09H1482.30V511.83H1485.56V515.09H1488.83V518.36H1492.09V537.93H1495.35V550.98H1498.61H1501.87H1505.14H1508.40V547.72H1511.66H1514.92V541.20H1518.18V528.14H1521.45V515.09H1524.71V518.36H1527.97V544.46H1531.23V547.72H1534.49V557.51H1537.76V560.77H1541.02H1544.28H1547.54V518.36H1550.80H1554.07V544.46H1557.33H1560.59V528.14H1563.85H1567.11V541.20H1570.38H1573.64H1576.90V531.41H1580.16V534.67H1583.42V544.46H1586.69V567.30H1589.95V564.03H1593.21V560.77H1596.47V554.25H1599.73H1603.00V547.72H1606.26H1609.52V554.25H1612.78V564.03H1616.04H1619.31V544.46H1622.57H1625.83H1629.09H1632.35V541.20H1635.62V550.98H1638.88V564.03H1642.14V560.77H1645.40H1648.66V557.51H1651.93V550.98H1655.19H1658.45V554.25H1661.71V564.03H1664.97V557.51H1668.24V544.46H1671.50V534.67H1674.76V537.93H1678.02H1681.28H1684.55H1687.81H1691.07V531.41H1694.33V534.67H1697.59V531.41H1700.86V534.67H1704.12H1707.38V521.62H1710.64V511.83H1713.90H1717.17V518.36H1720.43V495.52H1723.69V459.63H1726.95H1730.21V446.58H1733.48V449.84H1736.74V495.52H1740.00V498.78H1743.26V495.52H1746.52H1749.79V488.99H1753.05H1756.31H1759.57V498.78H1762.83V511.83H1766.10H1769.36H1772.62V521.62H1775.88V531.41H1779.14V508.57H1782.41V495.52H1785.67V492.26H1788.93V488.99H1792.19H1795.45H1798.72V482.47H1801.98V479.20H1805.24V492.26H1808.50V459.63H1811.76H1815.03V498.78H1818.29H1821.55V482.47H1824.81V462.89H1828.07H1831.34V443.31H1834.60H1837.86H1841.12V446.58H1844.38V495.52H1847.65H1850.91H1854.17V511.83H1857.43V515.09H1860.69V534.67H1863.96V531.41H1867.22V528.14H1870.48V518.36H1873.74V511.83H1877.00V508.57H1880.27V515.09H1883.53V531.41H1886.79V502.04H1890.05V482.47H1893.31V479.20H1896.58V498.78H1899.84V570.56H1903.10V567.30H1906.36V557.51H1909.62V521.62H1912.89V518.36H1916.15V521.62H1919.41V541.20H1922.67V554.25H1925.93V528.14H1929.20V531.41H1932.46V554.25H1935.72V544.46H1938.98V541.20H1942.24V531.41H1945.51V524.88H1948.77V511.83H1952.03H1955.29V508.57H1958.55V472.68H1961.82V469.42H1965.08V482.47H1968.34V495.52H1971.60V498.78H1974.86V495.52H1978.13V498.78H1981.39V482.47H1984.65V479.20H1987.91V482.47H1991.17V518.36H1994.44V528.14H1997.70H2000.96V606.45H1997.70H1994.44H1991.17V603.19H1987.91V593.40H1984.65V603.19H1981.39V609.71H1978.13H1974.86V590.14H1971.60H1968.34V583.61H1965.08V577.09H1961.82V583.61H1958.55H1955.29V599.92H1952.03V701.07H1948.77H1945.51V583.61H1942.24V612.98H1938.98H1935.72V626.03H1932.46H1929.20V612.98H1925.93V599.92H1922.67H1919.41V590.14H1916.15V577.09H1912.89V599.92H1909.62V619.50H1906.36V632.55H1903.10H1899.84V612.98H1896.58H1893.31V674.97H1890.05H1886.79V596.66H1883.53V586.87H1880.27V577.09H1877.00V586.87H1873.74V603.19H1870.48H1867.22H1863.96V626.03H1860.69H1857.43V606.45H1854.17H1850.91V632.55H1847.65H1844.38V583.61H1841.12V570.56H1837.86V616.24H1834.60H1831.34V596.66H1828.07H1824.81V622.76H1821.55H1818.29V586.87H1815.03V580.35H1811.76V635.81H1808.50H1805.24V603.19H1801.98V593.40H1798.72V596.66H1795.45V580.35H1792.19V570.56H1788.93V612.98H1785.67V626.03H1782.41V629.29H1779.14H1775.88V612.98H1772.62V606.45H1769.36H1766.10V590.14H1762.83V567.30H1759.57V577.09H1756.31H1753.05V599.92H1749.79V606.45H1746.52V612.98H1743.26V619.50H1740.00H1736.74V580.35H1733.48H1730.21V616.24H1726.95H1723.69V586.87H1720.43V603.19H1717.17V622.76H1713.90H1710.64V609.71H1707.38H1704.12V599.92H1700.86H1697.59V603.19H1694.33H1691.07V616.24H1687.81H1684.55V606.45H1681.28H1678.02V609.71H1674.76V599.92H1671.50V612.98H1668.24V645.60H1664.97H1661.71V626.03H1658.45V609.71H1655.19V622.76H1651.93H1648.66V609.71H1645.40V603.19H1642.14V645.60H1638.88H1635.62V616.24H1632.35V629.29H1629.09H1625.83H1622.57V635.81H1619.31H1616.04V632.55H1612.78V626.03H1609.52V629.29H1606.26V632.55H1603.00H1599.73V668.44H1596.47H1593.21V626.03H1589.95V648.86H1586.69H1583.42V612.98H1580.16H1576.90H1573.64V622.76H1570.38V616.24H1567.11H1563.85V622.76H1560.59V678.23H1557.33H1554.07V648.86H1550.80V629.29H1547.54V674.97H1544.28H1541.02V671.70H1537.76V622.76H1534.49V629.29H1531.23H1527.97V665.18H1524.71V661.92H1521.45V645.60H1518.18H1514.92V616.24H1511.66V622.76H1508.40V639.08H1505.14H1501.87V645.60H1498.61H1495.35V635.81H1492.09H1488.83V622.76H1485.56H1482.30V616.24H1479.04H1475.78V622.76H1472.52V616.24H1469.25V622.76H1465.99H1462.73V603.19H1459.47V586.87H1456.21V590.14H1452.94V599.92H1449.68H1446.42V616.24H1443.16V622.76H1439.90V596.66H1436.63V629.29H1433.37V622.76H1430.11V616.24H1426.85V609.71H1423.59H1420.32V603.19H1417.06H1413.80H1410.54H1407.28V596.66H1404.01H1400.75H1397.49V599.92H1394.23V616.24H1390.97V612.98H1387.70V603.19H1384.44V626.03H1381.18H1377.92V603.19H1374.66H1371.39H1368.13V652.13H1364.87H1361.61V629.29H1358.35H1355.08H1351.82V626.03H1348.56V629.29H1345.30H1342.04H1338.77V639.08H1335.51V635.81H1332.25H1328.99V642.34H1325.73H1322.46V629.29H1319.20V642.34H1315.94V645.60H1312.68V658.65H1309.42V671.70H1306.15H1302.89V639.08H1299.63H1296.37V629.29H1293.11V658.65H1289.84H1286.58V661.92H1283.32V658.65H1280.06V645.60H1276.80H1273.53H1270.27V652.13H1267.01V658.65H1263.75H1260.49V665.18H1257.22H1253.96H1250.70V658.65H1247.44V674.97H1244.18H1240.91V658.65H1237.65V642.34H1234.39V665.18H1231.13H1227.87V639.08H1224.60H1221.34H1218.08V671.70H1214.82H1211.56V658.65H1208.29V671.70H1205.03H1201.77V684.75H1198.51H1195.25V639.08H1191.98V671.70H1188.72V668.44H1185.46H1182.20V665.18H1178.94V681.49H1175.67V688.02H1172.41H1169.15V671.70H1165.89H1162.63H1159.36H1156.10V648.86H1152.84H1149.58V635.81H1146.32V655.39H1143.05V684.75H1139.79V681.49H1136.53H1133.27H1130.01H1126.74H1123.48V674.97H1120.22H1116.96H1113.70V678.23H1110.43H1107.17V671.70H1103.91V674.97H1100.65H1097.39H1094.12H1090.86H1087.60V671.70H1084.34H1081.08V674.97H1077.81H1074.55H1071.29V671.70H1068.03H1064.77H1061.50V697.81H1058.24H1054.98H1051.72H1048.46H1045.19H1041.93H1038.67H1035.41H1032.15H1028.88H1025.62V720.64H1022.36V743.48H1019.10H1015.84V723.91H1012.57H1009.31V727.17H1006.05V710.86H1002.79H999.53H996.26H993.00H989.74H986.48H983.22H979.95H976.69V717.38H973.43V730.43H970.17H966.91H963.64V714.12H960.38H957.12V727.17H953.86H950.60V720.64H947.33V710.86H944.07V720.64H940.81H937.55V717.38H934.29V710.86H931.02V697.81H927.76H924.50H921.24H917.98H914.71H911.45H908.19H904.93H901.67H898.40V691.28H895.14V697.81H891.88H888.62H885.36H882.09V701.07H878.83H875.57V710.86H872.31V730.43H869.05H865.78V714.12H862.52V717.38H859.26H856.00V710.86H852.74V714.12H849.47H846.21V710.86H842.95H839.69V736.96H836.43H833.16V717.38H829.90H826.64V714.12H823.38V707.59H820.12V710.86H816.85V707.59H813.59V710.86H810.33V704.33H807.07H803.81V694.54H800.54V697.81H797.28V694.54H794.02V691.28H790.76H787.50V701.07H784.23V704.33H780.97V681.49H777.71V678.23H774.45V668.44H771.19V681.49H767.92H764.66V674.97H761.40V668.44H758.14H754.88V661.92H751.61H748.35V668.44H745.09V691.28H741.83V704.33H738.57H735.30V694.54H732.04V684.75H728.78V694.54H725.52H722.26V678.23H718.99V697.81H715.73H712.47V688.02H709.21V678.23H705.95V691.28H702.68H699.42V707.59H696.16H692.90V691.28H689.64H686.37V645.60H683.11V648.86H679.85V655.39H676.59V639.08H673.33H670.06V635.81H666.80V665.18H663.54V661.92H660.28V639.08H657.02V645.60H653.75V619.50H650.49H647.23H643.97H640.71H637.44H634.18H630.92H627.66H624.40H621.13H617.87H614.61H611.35H608.09H604.82H601.56H598.30H595.04H591.78H588.51H585.25H581.99H578.73H575.47H572.20H568.94H565.68H562.42H559.16V593.40H555.89V606.45H552.63V619.50H549.37V596.66H546.11V606.45H542.85V609.71H539.58V619.50H536.32H533.06V616.24H529.80H526.54V612.98H523.27V622.76H520.01V626.03H516.75V609.71H513.49V616.24H510.23V619.50H506.96V603.19H503.70V619.50H500.44H497.18V603.19H493.92V609.71H490.65V639.08H487.39V632.55H484.13V626.03H480.87V609.71H477.61V619.50H474.34V626.03H471.08V599.92H467.82V626.03H464.56V635.81H461.30V609.71H458.03V635.81H454.77V629.29H451.51V642.34H448.25V619.50H444.99H441.72V616.24H438.46V629.29H435.20V665.18H431.94V596.66H428.68V580.35H425.41V674.97H422.15V678.23H418.89H415.63Z"/>
<path id="ti-tin" fill="#ff0000" d="M272.10 740.22H275.36H278.62H281.89H285.15V736.96H288.41V717.38H291.67V714.12H294.93V691.28H298.20H301.46V688.02H304.72V684.75H307.98V688.02H311.24V684.75H314.51V671.70H317.77H321.03V661.92H324.29H327.55V658.65H330.82V635.81H334.08V632.55H337.34V635.81H340.60V626.03H343.86H347.13V622.76H350.39V619.50H353.65V626.03H356.91V603.19H360.17V606.45H363.44V609.71H366.70V606.45H369.96V612.98H373.22V609.71H376.48H379.75V590.14H383.01H386.27V596.66H389.53V593.40H392.79H396.06V612.98H399.32V599.92H402.58V583.61H405.84H409.10V590.14H412.37V573.82H415.63V570.56H418.89V573.82H422.15H425.41V577.09H428.68V593.40H431.94V661.92H435.20V626.03H438.46V622.76H441.72V616.24H444.99H448.25V639.08H451.51V642.34H454.77V632.55H458.03H461.30H464.56V622.76H467.82H471.08H474.34V632.55H477.61V622.76H480.87H484.13V629.29H487.39V635.81H490.65V642.34H493.92V622.76H497.18H500.44V626.03H503.70V635.81H506.96V626.03H510.23H513.49H516.75V622.76H520.01V619.50H523.27V616.24H526.54V612.98H529.80H533.06V619.50H536.32V629.29H539.58V606.45H542.85V609.71H546.11V616.24H549.37H552.63V603.19H555.89V599.92H559.16H562.42H565.68V603.19H568.94V583.61H572.20V580.35H575.47V583.61H578.73V593.40H581.99V596.66H585.25H588.51V593.40H591.78V586.87H595.04V570.56H598.30V560.77H601.56V564.03H604.82V570.56H608.09V567.30H611.35V560.77H614.61H617.87V564.03H621.13H624.40V580.35H627.66V583.61H630.92V586.87H634.18V583.61H637.44V554.25H640.71V550.98H643.97V560.77H647.23V570.56H650.49H653.75H657.02V564.03H660.28V560.77H663.54V544.46H666.80H670.06V560.77H673.33V541.20H676.59V537.93H679.85V534.67H683.11V544.46H686.37V570.56H689.64H692.90V580.35H696.16V583.61H699.42H702.68V580.35H705.95V577.09H709.21V580.35H712.47V583.61H715.73V564.03H718.99V560.77H722.26V567.30H725.52V577.09H728.78V596.66H732.04V593.40H735.30V590.14H738.57H741.83V596.66H745.09V583.61H748.35H751.61H754.88V580.35H758.14H761.40V583.61H764.66V580.35H767.92V577.09H771.19V567.30H774.45H777.71V580.35H780.97H784.23H787.50V586.87H790.76V593.40H794.02V590.14H797.28H800.54V606.45H803.81H807.07V616.24H810.33V609.71H813.59V599.92H816.85V596.66H820.12V612.98H823.38H826.64V626.03H829.90V609.71H833.16V606.45H836.43V603.19H839.69H842.95V609.71H846.21V606.45H849.47V612.98H852.74V616.24H856.00V612.98H859.26V609.71H862.52H865.78V603.19H869.05H872.31V619.50H875.57V609.71H878.83V612.98H882.09H885.36V622.76H888.62V606.45H891.88H895.14H898.40V612.98H901.67V603.19H904.93V599.92H908.19V593.40H911.45H914.71V599.92H917.98V609.71H921.24V626.03H924.50V639.08H927.76H931.02V619.50H934.29H937.55V629.29H940.81H944.07V626.03H947.33V622.76H950.60V619.50H953.86H957.12V639.08H960.38H963.64V626.03H966.91V619.50H970.17H973.43V612.98H976.69H979.95V619.50H983.22V622.76H986.48V652.13H989.74V655.39H993.00H996.26H999.53V645.60H1002.79V639.08H1006.05V642.34H1009.31H1012.57H1015.84V632.55H1019.10H1022.36V639.08H1025.62V655.39H1028.88V645.60H1032.15H1035.41H1038.67H1041.93V648.86H1045.19H1048.46V645.60H1051.72V642.34H1054.98V652.13H1058.24V671.70H1061.50V668.44H1064.77V661.92H1068.03H1071.29V665.18H1074.55V668.44H1077.81V674.97H1081.08V658.65H1084.34V661.92H1087.60V668.44H1090.86V674.97H1094.12H1097.39V671.70H1100.65H1103.91H1107.17V678.23H1110.43H1113.70V674.97H1116.96V661.92H1120.22V665.18H1123.48V674.97H1126.74V684.75H1130.01V681.49H1133.27V655.39H1136.53V658.65H1139.79V681.49H1143.05H1146.32V678.23H1149.58V674.97H1152.84V671.70H1156.10H1159.36H1162.63V674.97H1165.89V678.23H1169.15V688.02H1172.41V691.28H1175.67V678.23H1178.94H1182.20H1185.46V674.97H1188.72V671.70H1191.98H1195.25V681.49H1198.51V691.28H1201.77H1205.03H1208.29V681.49H1211.56H1214.82V694.54H1218.08V691.28H1221.34V678.23H1224.60V674.97H1227.87V678.23H1231.13V694.54H1234.39V691.28H1237.65V684.75H1240.91H1244.18V701.07H1247.44V707.59H1250.70V746.75H1253.96V756.53H1257.22V785.90H1260.49H1263.75V789.16H1267.01V779.37H1270.27V772.85H1273.53H1276.80V779.37H1280.06V792.42H1283.32V805.47H1286.58V808.74H1289.84V779.37H1293.11V772.85H1296.37H1299.63H1302.89V795.69H1306.15V802.21H1309.42V808.74H1312.68V805.47H1315.94V756.53H1319.20H1322.46V782.64H1325.73V759.80H1328.99V763.06H1332.25V785.90H1335.51V802.21H1338.77V815.26H1342.04V821.79H1345.30H1348.56V828.31H1351.82V854.41H1355.08V864.20H1358.35V860.94H1361.61H1364.87V870.73H1368.13V873.99H1371.39V860.94H1374.66H1377.92V887.04H1381.18V867.47H1384.44V857.68H1387.70H1390.97V864.20H1394.23V867.47H1397.49H1400.75V864.20H1404.01V867.47H1407.28V873.99H1410.54V870.73H1413.80V867.47H1417.06H1420.32V890.30H1423.59V893.57H1426.85H1430.11V890.30H1433.37H1436.63V900.09H1439.90V903.36H1443.16V887.04H1446.42V890.30H1449.68V916.41H1452.94V913.14H1456.21V916.41H1459.47H1462.73V919.67H1465.99V909.88H1469.25V906.62H1472.52V896.83H1475.78H1479.04V893.57H1482.30V903.36H1485.56V900.09H1488.83V896.83H1492.09V913.14H1495.35V906.62H1498.61V880.52H1501.87H1505.14V900.09H1508.40V893.57H1511.66H1514.92V900.09H1518.18V906.62H1521.45V903.36H1524.71V909.88H1527.97H1531.23V913.14H1534.49H1537.76V958.82H1541.02V968.61H1544.28V965.35H1547.54V968.61H1550.80V971.87H1554.07H1557.33H1560.59V978.40H1563.85H1567.11H1570.38H1573.64V971.87H1576.90V962.08H1580.16V880.52H1583.42V877.25H1586.69V883.78H1589.95V870.73H1593.21V867.47H1596.47V870.73H1599.73V864.20H1603.00V854.41H1606.26V831.58H1609.52V834.84H1612.78H1616.04V838.10H1619.31V831.58H1622.57V834.84H1625.83V870.73H1629.09V873.99H1632.35V893.57H1635.62V903.36H1638.88V919.67H1642.14V896.83H1645.40V893.57H1648.66V903.36H1651.93V900.09H1655.19V916.41H1658.45H1661.71V903.36H1664.97V880.52H1668.24V860.94H1671.50V818.53H1674.76H1678.02V828.31H1681.28H1684.55V821.79H1687.81V812.00H1691.07H1694.33H1697.59V818.53H1700.86H1704.12V828.31H1707.38V831.58H1710.64V828.31H1713.90V818.53H1717.17H1720.43V821.79H1723.69V812.00H1726.95H1730.21V815.26H1733.48V825.05H1736.74V831.58H1740.00H1743.26V828.31H1746.52V825.05H1749.79V831.58H1753.05V834.84H1756.31V825.05H1759.57V815.26H1762.83H1766.10V834.84H1769.36H1772.62V825.05H1775.88H1779.14H1782.41V802.21H1785.67V798.95H1788.93V812.00H1792.19V825.05H1795.45V828.31H1798.72V821.79H1801.98V815.26H1805.24V812.00H1808.50H1811.76V815.26H1815.03V818.53H1818.29V821.79H1821.55V828.31H1824.81V834.84H1828.07V821.79H1831.34V818.53H1834.60H1837.86V821.79H1841.12V812.00H1844.38H1847.65V821.79H1850.91V831.58H1854.17H1857.43H1860.69V821.79H1863.96H1867.22V838.10H1870.48V831.58H1873.74V825.05H1877.00V815.26H1880.27V818.53H1883.53V834.84H1886.79V831.58H1890.05V825.05H1893.31H1896.58H1899.84V798.95H1903.10H1906.36V818.53H1909.62V828.31H1912.89H1916.15V818.53H1919.41V812.00H1922.67H1925.93H1929.20V818.53H1932.46H1935.72V828.31H1938.98V831.58H1942.24V828.31H1945.51V818.53H1948.77H1952.03H1955.29V812.00H1958.55H1961.82H1965.08V825.05H1968.34V831.58H1971.60H1974.86V825.05H1978.13V821.79H1981.39V831.58H1984.65V838.10H1987.91V828.31H1991.17V815.26H1994.44H1997.70V831.58H2000.96V906.62H1997.70V903.36H1994.44V883.78H1991.17V913.14H1987.91H1984.65V890.30H1981.39V883.78H1978.13V900.09H1974.86V903.36H1971.60V900.09H1968.34H1965.08V877.25H1961.82V893.57H1958.55V900.09H1955.29H1952.03V893.57H1948.77V883.78H1945.51V909.88H1942.24H1938.98V903.36H1935.72V900.09H1932.46V883.78H1929.20V900.09H1925.93V903.36H1922.67H1919.41V890.30H1916.15V900.09H1912.89V906.62H1909.62V903.36H1906.36V890.30H1903.10V903.36H1899.84V906.62H1896.58V909.88H1893.31V906.62H1890.05V919.67H1886.79H1883.53V906.62H1880.27V887.04H1877.00V893.57H1873.74V913.14H1870.48H1867.22V887.04H1863.96V890.30H1860.69V903.36H1857.43H1854.17V900.09H1850.91V890.30H1847.65V880.52H1844.38V893.57H1841.12V900.09H1837.86V896.83H1834.60V893.57H1831.34V887.04H1828.07V909.88H1824.81H1821.55V900.09H1818.29V896.83H1815.03V887.04H1811.76V903.36H1808.50H1805.24V896.83H1801.98V887.04H1798.72V903.36H1795.45V906.62H1792.19V903.36H1788.93V896.83H1785.67V906.62H1782.41H1779.14V909.88H1775.88V916.41H1772.62V919.67H1769.36V913.14H1766.10V903.36H1762.83V883.78H1759.57V913.14H1756.31H1753.05V903.36H1749.79V883.78H1746.52V896.83H1743.26V903.36H1740.00V900.09H1736.74H1733.48V887.04H1730.21V890.30H1726.95V896.83H1723.69V900.09H1720.43V893.57H1717.17V883.78H1713.90V909.88H1710.64H1707.38V906.62H1704.12V900.09H1700.86V873.99H1697.59V890.30H1694.33V903.36H1691.07H1687.81V890.30H1684.55V900.09H1681.28V906.62H1678.02V900.09H1674.76H1671.50V903.36H1668.24V922.93H1664.97V942.51H1661.71V945.77H1658.45V952.30H1655.19V955.56H1651.93V945.77H1648.66H1645.40V952.30H1642.14H1638.88H1635.62H1632.35V949.03H1629.09V942.51H1625.83V935.98H1622.57V958.82H1619.31V962.08H1616.04V958.82H1612.78V955.56H1609.52H1606.26V913.14H1603.00V949.03H1599.73V978.40H1596.47H1593.21V945.77H1589.95V926.19H1586.69V991.45H1583.42H1580.16H1576.90V997.97H1573.64V1001.24H1570.38H1567.11H1563.85V994.71H1560.59H1557.33V991.45H1554.07H1550.80V988.19H1547.54H1544.28H1541.02V994.71H1537.76H1534.49V968.61H1531.23V955.56H1527.97H1524.71H1521.45V958.82H1518.18H1514.92V942.51H1511.66V949.03H1508.40H1505.14H1501.87H1498.61H1495.35V958.82H1492.09V955.56H1488.83V958.82H1485.56V955.56H1482.30H1479.04V958.82H1475.78H1472.52V955.56H1469.25V949.03H1465.99H1462.73V945.77H1459.47V965.35H1456.21H1452.94V949.03H1449.68V975.13H1446.42V978.40H1443.16V929.46H1439.90H1436.63V922.93H1433.37H1430.11H1426.85H1423.59H1420.32V913.14H1417.06H1413.80V903.36H1410.54V906.62H1407.28V900.09H1404.01V906.62H1400.75H1397.49V919.67H1394.23V922.93H1390.97V919.67H1387.70V913.14H1384.44V932.72H1381.18V939.25H1377.92H1374.66V945.77H1371.39H1368.13H1364.87H1361.61V935.98H1358.35H1355.08V926.19H1351.82V922.93H1348.56V887.04H1345.30V913.14H1342.04H1338.77V887.04H1335.51H1332.25V896.83H1328.99H1325.73V873.99H1322.46H1319.20V867.47H1315.94V870.73H1312.68V847.89H1309.42V844.63H1306.15V841.36H1302.89V838.10H1299.63V815.26H1296.37V834.84H1293.11V838.10H1289.84V851.15H1286.58H1283.32V838.10H1280.06V828.31H1276.80V825.05H1273.53V815.26H1270.27V831.58H1267.01V841.36H1263.75V903.36H1260.49V906.62H1257.22H1253.96V834.84H1250.70V831.58H1247.44V776.11H1244.18V766.32H1240.91V763.06H1237.65V776.11H1234.39H1231.13V763.06H1227.87V746.75H1224.60V772.85H1221.34H1218.08V769.58H1214.82V746.75H1211.56V750.01H1208.29V759.80H1205.03H1201.77H1198.51V740.22H1195.25V746.75H1191.98V753.27H1188.72V756.53H1185.46H1182.20V746.75H1178.94H1175.67V769.58H1172.41H1169.15V759.80H1165.89V746.75H1162.63H1159.36V756.53H1156.10V759.80H1152.84V746.75H1149.58H1146.32V763.06H1143.05H1139.79V759.80H1136.53V756.53H1133.27V763.06H1130.01V766.32H1126.74V769.58H1123.48V756.53H1120.22V750.01H1116.96V759.80H1113.70V772.85H1110.43V776.11H1107.17V766.32H1103.91V746.75H1100.65V753.27H1097.39V756.53H1094.12V753.27H1090.86V750.01H1087.60V736.96H1084.34V750.01H1081.08H1077.81V746.75H1074.55V740.22H1071.29V736.96H1068.03V753.27H1064.77V763.06H1061.50H1058.24V727.17H1054.98V717.38H1051.72V736.96H1048.46V740.22H1045.19V736.96H1041.93V723.91H1038.67V710.86H1035.41V736.96H1032.15V750.01H1028.88H1025.62V720.64H1022.36H1019.10V730.43H1015.84V740.22H1012.57H1009.31V720.64H1006.05V730.43H1002.79V733.70H999.53V746.75H996.26H993.00V714.12H989.74V730.43H986.48V733.70H983.22V730.43H979.95V717.38H976.69V697.81H973.43V691.28H970.17V704.33H966.91V720.64H963.64H960.38V714.12H957.12V701.07H953.86V691.28H950.60V707.59H947.33V710.86H944.07V707.59H940.81V704.33H937.55V684.75H934.29V704.33H931.02H927.76V717.38H924.50H921.24V714.12H917.98V688.02H914.71V694.54H911.45V714.12H908.19H904.93H901.67V697.81H898.40V678.23H895.14V697.81H891.88H888.62H885.36H882.09V665.18H878.83V678.23H875.57V710.86H872.31H869.05V681.49H865.78V668.44H862.52V678.23H859.26V701.07H856.00H852.74V697.81H849.47V694.54H846.21V678.23H842.95H839.69V684.75H836.43V694.54H833.16H829.90H826.64V678.23H823.38V665.18H820.12V674.97H816.85V681.49H813.59V684.75H810.33V688.02H807.07V678.23H803.81V668.44H800.54V671.70H797.28V668.44H794.02H790.76V671.70H787.50V668.44H784.23V639.08H780.97V645.60H777.71H774.45V639.08H771.19H767.92V632.55H764.66V635.81H761.40V645.60H758.14V648.86H754.88V661.92H751.61H748.35V658.65H745.09V648.86H741.83V642.34H738.57V658.65H735.30H732.04V665.18H728.78V661.92H725.52H722.26V642.34H718.99H715.73V639.08H712.47V632.55H709.21V645.60H705.95V648.86H702.68V642.34H699.42H696.16V655.39H692.90H689.64H686.37V665.18H683.11H679.85V652.13H676.59V629.29H673.33V622.76H670.06V626.03H666.80V632.55H663.54V629.29H660.28H657.02V626.03H653.75V645.60H650.49V655.39H647.23H643.97H640.71V648.86H637.44H634.18V635.81H630.92V639.08H627.66V642.34H624.40H621.13H617.87V645.60H614.61V635.81H611.35V622.76H608.09V635.81H604.82V639.08H601.56V652.13H598.30V665.18H595.04H591.78V652.13H588.51V648.86H585.25V652.13H581.99V655.39H578.73V658.65H575.47V652.13H572.20V661.92H568.94H565.68H562.42V645.60H559.16V661.92H555.89V674.97H552.63V681.49H549.37V684.75H546.11V681.49H542.85V704.33H539.58H536.32V694.54H533.06V691.28H529.80V694.54H526.54V697.81H523.27V681.49H520.01H516.75V678.23H513.49V661.92H510.23V684.75H506.96V688.02H503.70H500.44V684.75H497.18H493.92V681.49H490.65V671.70H487.39V681.49H484.13V697.81H480.87V710.86H477.61V714.12H474.34V710.86H471.08V707.59H467.82V701.07H464.56V694.54H461.30V723.91H458.03V730.43H454.77V743.48H451.51V740.22H448.25V743.48H444.99H441.72V717.38H438.46V736.96H435.20V766.32H431.94V795.69H428.68H425.41V661.92H422.15H418.89V665.18H415.63V678.23H412.37H409.10V661.92H405.84V691.28H402.58V694.54H399.32V704.33H396.06V701.07H392.79V671.70H389.53H386.27V665.18H383.01V694.54H379.75V707.59H376.48H373.22V704.33H369.96H366.70V701.07H363.44H360.17H356.91V704.33H353.65V707.59H350.39V727.17H347.13V733.70H343.86H340.60H337.34V730.43H334.08V733.70H330.82V750.01H327.55V746.75H324.29V753.27H321.03V759.80H317.77V763.06H314.51H311.24H307.98V776.11H304.72V785.90H301.46H298.20V802.21H294.93H291.67H288.41H285.15V808.74H281.89V818.53H278.62V893.57H275.36V812.00H272.10Z"/>
<rect x="272.1" y="254.2" width="3.262" height="376" fill="#ff00ff"/><rect x="272.1" y="628.8" width="3.262" height="604.2" fill="#0000ff"/><rect x="272.1" y="762.5" width="3.262" height="456.5" fill="#ff0000"/><rect x="275.36" y="985" width="3.262" height="189" fill="#000"/>
</g>
<g id="legend">
<rect x="1585.1" y="69.9" width="407.4" height="371.3" fill="#fff" stroke="#000" stroke-width="3.4"/>
<text class="leg" x="1589.5" y="126.2" letter-spacing="0.3">800°C</text>
<rect x="1589.8" y="178.8" width="140.5" height="6.8" fill="#000000"/>
<text class="leg" x="1742.6" y="201.9" letter-spacing="0.25">Steel M2</text>
<rect x="1589.8" y="254.1" width="140.5" height="6.8" fill="#ff00ff"/>
<text class="leg" x="1742.6" y="277.2" dx="0 4.6">Ti</text>
<rect x="1589.8" y="329.1" width="140.5" height="6.8" fill="#0000ff"/>
<text class="leg" x="1742.6" y="352.2" dx="0 4.6 0">TiN</text>
<rect x="1589.8" y="404.2" width="140.5" height="6.8" fill="#ff0000"/>
<text class="leg" x="1742.6" y="427.3" dx="0 4.1 0.6 0.4 3.0 0.2">Ti/TiN</text>
</g>
<g id="labels">
<text class="tick" text-anchor="end" x="231" y="1357.10">0.0</text>
<text class="tick" text-anchor="end" x="231" y="1099.10">0.2</text>
<text class="tick" text-anchor="end" x="231" y="845.00">0.4</text>
<text class="tick" text-anchor="end" x="231" y="587.00">0.6</text>
<text class="tick" text-anchor="end" x="231" y="329.00">0.8</text>
<text class="tick" text-anchor="end" x="231" y="71.65">1.0</text>
<text class="tick" text-anchor="middle" transform="translate(272.2 1422.1) scale(0.91 1)">0</text>
<text class="tick" text-anchor="middle" transform="translate(617.9 1422.1) scale(0.91 1)">20</text>
<text class="tick" text-anchor="middle" transform="translate(964.8 1422.1) scale(0.91 1)">40</text>
<text class="tick" text-anchor="middle" transform="translate(1309.4 1422.1) scale(0.91 1)">60</text>
<text class="tick" text-anchor="middle" transform="translate(1655.3 1422.1) scale(0.91 1)">80</text>
<text class="tick" text-anchor="middle" transform="translate(2000.0 1422.1) scale(0.91 1)">100</text>
<text class="ttl" text-anchor="middle" x="1135.6" y="1519.9" letter-spacing="0.6">Distance (m)</text>
<text class="ttl" text-anchor="middle" letter-spacing="0.07" transform="translate(86.0 672.5) rotate(-90)">Coefficient of friction</text>
</g>
</svg></body></html>
